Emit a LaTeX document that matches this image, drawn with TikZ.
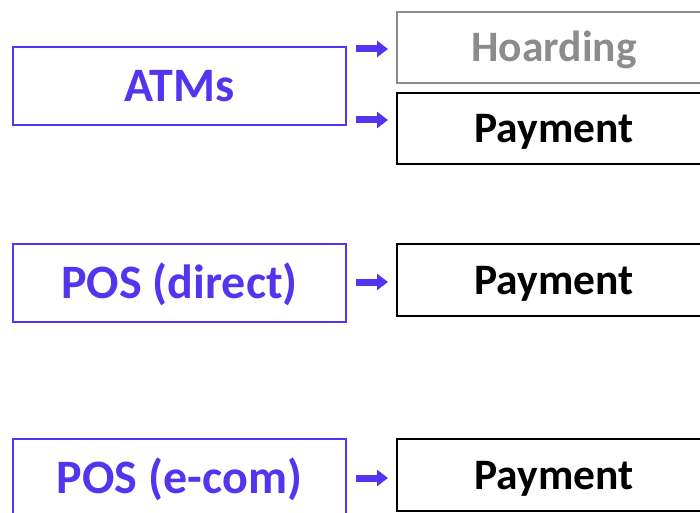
\documentclass[tikz,border=0pt]{standalone}
\usepackage{fontspec}
\setmainfont{Carlito}
\usetikzlibrary{arrows.meta}
\definecolor{chanblue}{RGB}{84,52,238}
\definecolor{softgray}{RGB}{140,140,140}
\tikzset{
  srcbox/.style={draw=chanblue, line width=2bp, minimum width=333bp, minimum height=78bp,
    text=chanblue, font=\fontsize{48bp}{56bp}\selectfont\bfseries, inner sep=0pt,
    text height=31bp, text depth=0bp},
  usebox/.style={draw=black, line width=2bp, minimum width=314bp, minimum height=71bp,
    text=black, font=\fontsize{43.5bp}{52bp}\selectfont\bfseries, inner sep=0pt,
    text height=28bp, text depth=0bp},
  idlebox/.style={usebox, draw=softgray, text=softgray},
  flow/.style={draw=chanblue, line width=7bp, -{Triangle[length=11bp, width=16bp]},
    shorten <=9bp, shorten >=8bp}
}
\begin{document}
\begin{tikzpicture}[x=1bp, y=-1bp]
\useasboundingbox (0,0) rectangle (700,513);
\clip (0,0) rectangle (700,513);
% channels
\node[srcbox] (atms) at (179.5,86.5) {ATMs};
\node[srcbox] (posd) at (179.5,283) {POS (direct)};
\node[srcbox] (pose) at (179.5,478) {POS (e-com)};
% uses
\node[idlebox] (hoard) at (554,47.5) {Hoarding};
\node[usebox] (pay1) at (554,128.5) {Payment};
\node[usebox, minimum height=72bp] (pay2) at (554,280) {Payment};
\node[usebox, minimum height=72bp] (pay3) at (554,475) {Payment};
% arrow levels
\coordinate (l1) at (0,49);
\coordinate (l2) at (0,120);
\coordinate (l3) at (0,282);
\coordinate (l4) at (0,478);
\draw[flow] (atms.east |- l1) -- (hoard.west |- l1);
\draw[flow] (atms.east |- l2) -- (pay1.west |- l2);
\draw[flow] (posd.east |- l3) -- (pay2.west |- l3);
\draw[flow] (pose.east |- l4) -- (pay3.west |- l4);
\end{tikzpicture}
\end{document}
